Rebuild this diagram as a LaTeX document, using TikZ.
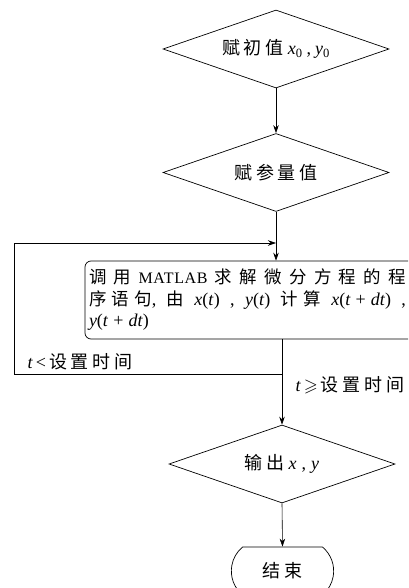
\documentclass[tikz,border=0pt]{standalone}
\usepackage{fontspec}
\usepackage{amssymb}
\setmainfont{Liberation Serif}
\newfontfamily\cjk{Noto Sans CJK SC}[Scale=1.0,LetterSpace=22]
\newfontfamily\cjkb{Noto Sans CJK SC}[Scale=0.97]
\newcommand\zh[1]{{\cjk #1}}
\newcommand\vi[1]{\textit{#1}}
\newcommand\ga{\hskip 0pt plus 1fil\relax}
\newcommand\gb{\hskip 0pt plus 2fil\relax}
\usetikzlibrary{shapes.geometric,shapes.misc,arrows.meta}
\begin{document}
\begin{tikzpicture}[x=1pt,y=-1pt,
  every node/.style={font=\fontsize{18}{21.5}\selectfont},
  dia/.style={draw, diamond, aspect=2.9, inner sep=0pt, minimum width=226pt, minimum height=78pt, line width=0.7pt},
  arr/.style={-{Stealth[length=8pt,width=5.5pt]}, line width=0.6pt},
  ln/.style={line width=0.6pt},
  procbox/.style={draw, rounded corners=6pt, line width=0.7pt, minimum width=340pt, minimum height=78pt, text width=332pt, align=left, inner xsep=3pt},
  term/.style={draw, rounded rectangle, rounded rectangle arc length=100, line width=0.7pt, minimum width=109pt, minimum height=48pt}]
\clip (0,0) rectangle (408,588);
\useasboundingbox (0,0) rectangle (408,588);
\node[dia] (d1) at (276,49) {\zh{赋初值}\hspace{4pt}\vi{x}\textsubscript{0}\hspace{4pt},\hspace{4pt}\vi{y}\textsubscript{0}};
\node[dia] (d2) at (276,172.5) {\zh{赋参量值}};
\node[procbox] (b) at (255,300) {\leavevmode\hbox to 317pt{\cjkb 调\ga 用\ga{\rmfamily\fontsize{16}{21.5}\selectfont\addfontfeatures{LetterSpace=4}MATLAB}\ga 求\ga 解\ga 微\ga 分\ga 方\ga 程\ga 的\ga 程}\\
\leavevmode\hbox to 317pt{\cjkb 序\ga 语\ga 句{\rmfamily,}\gb 由\gb{\rmfamily\vi{x}(\vi{t})}\gb{\rmfamily,}\gb{\rmfamily\vi{y}(\vi{t})}\gb 计\ga 算\gb{\rmfamily\vi{x}(\vi{t}\hskip 5pt+\hskip 5pt\vi{dt})}\gb{\rmfamily,}}\\
\vi{y}(\vi{t}\hskip 5pt+\hskip 5pt\vi{dt})};
\node[dia] (d3) at (282,464) {\zh{输出}\hspace{4pt}\vi{x}\hspace{5pt},\hspace{5pt}\vi{y}};
\node[term] (e) at (282.5,571) {\zh{结束}};
\coordinate (lb) at (14,374);
\coordinate (lt) at (14,243);
\node[anchor=west] (l1) at (24,362) {\vi{t}\,<\,\zh{设置时间}};
\node[anchor=west] (l2) at (292,385) {\vi{t}\,$\geqslant$\,\zh{设置时间}};
\draw[arr] (d1.south) -- (d2.north);
\draw[arr] (d2.south) -- (d2.south |- b.north);
\draw[ln] (b.south -| d3.north) |- (lb) -- (lt);
\draw[arr] (lt) -- (lt -| d2.south);
\draw[arr] (b.south -| d3.north) -- (d3.north);
\draw[arr] (d3.south) -- (e.north);
\end{tikzpicture}
\end{document}
